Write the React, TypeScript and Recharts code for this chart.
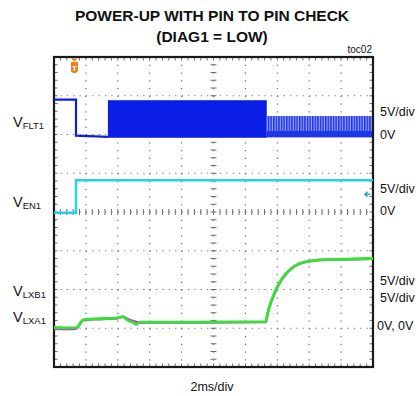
import React from 'react';
import {
  ComposedChart,
  Line,
  Area,
  XAxis,
  YAxis,
  ReferenceArea,
  ReferenceDot,
} from 'recharts';

// time in ms from the left edge of the screen (2ms/div, 10 div)
// VFLT1 (volts)
const fltTime = [0, 1.38, 1.38, 2.6, 3.38];
const fltVolts = [4.5, 4.5, -0.15, -0.25, -0.3];
const burstTime = [3.38, 13.34];
const burstLow = [-0.35, -0.35];
const burstHigh = [4.35, 4.35];
const tailTime = [13.34, 20];
const tailLow = [-0.35, -0.35];
const tailHigh = [2.4, 2.4];
const tailBand = [0.45, 0.45];

// VEN1
const enTime = [0, 1.38, 1.38, 20];
const enVolts = [-0.1, -0.1, 4.1, 4.1];

// VLXA1 / VLXB1
const lxTime = [0, 1.0, 1.38, 1.85, 2.5, 4.0, 4.3, 4.6, 5.0, 5.15, 5.35, 9.0, 13.28, 13.38, 13.5, 13.81, 14.23, 14.75, 15.38, 16.42, 17.9, 20];
const lxaVolts = [0.1, 0.05, 0.05, 1.1, 1.2, 1.35, 1.5, 1.05, 0.7, 0.5, 0.8, 0.8, 0.85, 1.8, 2.75, 4.47, 6.19, 7.48, 8.35, 8.77, 8.9, 9.0];
const lxbVolts = [-0.05, -0.1, -0.05, 1.05, 1.15, 1.3, 1.5, 1.2, 0.9, 0.8, 0.75, 0.75, 0.8, 1.75, 2.7, 4.4, 6.15, 7.45, 8.3, 8.75, 8.88, 8.98];

const triggerTime = 1.28;
const enLevel = 2.3;

const zip = (t: number[], v: number[]) => t.map((x, i) => ({ t: x, v: v[i] }));
const band = (t: number[], lo: number[], hi: number[]) => t.map((x, i) => ({ t: x, r: [lo[i], hi[i]] }));

const FONT = "'Liberation Sans', Arial, sans-serif";
const GRID = '#6e6e6e';
const XDIV = 10;
const YDIV = 8;

// scope graticule: dotted grid, minor ticks on edges and centre axes
const Graticule = (props: any) => {
  const { x, y, width, height } = props;
  const dx = width / XDIV;
  const dy = height / YDIV;
  const cx = x + width / 2;
  const cy = y + height / 2;
  const lines: React.ReactNode[] = [];
  for (let i = 1; i < XDIV; i++) {
    const gx = x + i * dx;
    lines.push(<line key={`v${i}`} x1={gx} y1={y} x2={gx} y2={y + height} strokeWidth={1.2} strokeDasharray={`1.2 ${dy / 5 - 1.2}`} />);
  }
  for (let j = 1; j < YDIV; j++) {
    const gy = y + j * dy;
    lines.push(<line key={`h${j}`} x1={x} y1={gy} x2={x + width} y2={gy} strokeWidth={1.2} strokeDasharray={`1.2 ${dx / 5 - 1.2}`} />);
  }
  for (let i = 1; i < XDIV * 5; i++) {
    const gx = x + (i * dx) / 5;
    lines.push(<line key={`tb${i}`} x1={gx} y1={y + height} x2={gx} y2={y + height - 3.5} />);
    lines.push(<line key={`tt${i}`} x1={gx} y1={y} x2={gx} y2={y + 3.5} />);
    lines.push(<line key={`tc${i}`} x1={gx} y1={cy - 3} x2={gx} y2={cy + 3} />);
  }
  for (let j = 1; j < YDIV * 5; j++) {
    const gy = y + (j * dy) / 5;
    lines.push(<line key={`tl${j}`} x1={x} y1={gy} x2={x + 3.5} y2={gy} />);
    lines.push(<line key={`tr${j}`} x1={x + width} y1={gy} x2={x + width - 3.5} y2={gy} />);
    lines.push(<line key={`tm${j}`} x1={cx - 3} y1={gy} x2={cx + 3} y2={gy} />);
  }
  return (
    <g stroke={GRID} strokeWidth={1} fill="none">
      {lines}
    </g>
  );
};

const Frame = (props: any) => {
  const { x, y, width, height } = props;
  return <rect x={x} y={y} width={width} height={height} fill="none" stroke="#1a1a1a" strokeWidth={2.2} />;
};

const TriggerMark = (props: any) => {
  const { cx, cy } = props;
  return (
    <g>
      <path d={`M${cx - 3.5},${cy + 1.5} L${cx + 3.5},${cy + 1.5} L${cx},${cy + 4.5} Z`} fill="#f07c1c" />
      <path
        d={`M${cx - 3.5},${cy + 5} L${cx + 3.5},${cy + 5} L${cx + 3.5},${cy + 13} Q${cx + 3.5},${cy + 16} ${cx},${cy + 16} Q${cx - 3.5},${cy + 16} ${cx - 3.5},${cy + 13} Z`}
        fill="#f07c1c"
      />
      <text x={cx} y={cy + 14} textAnchor="middle" fontSize={8} fontWeight="bold" fill="#fff" fontFamily={FONT}>
        T
      </text>
    </g>
  );
};

const LevelMark = (props: any) => {
  const { cx, cy } = props;
  return (
    <g stroke="#1b9fae" strokeWidth={1.4} fill="none">
      <line x1={cx - 8} y1={cy} x2={cx - 2.5} y2={cy} />
      <path d={`M${cx - 5.5},${cy - 2.5} L${cx - 8},${cy} L${cx - 5.5},${cy + 2.5}`} />
    </g>
  );
};

const App: React.FC = () => {
  return (
    <div style={{ position: 'absolute', left: 0, top: 0, width: 420, height: 396, background: '#fff' }}>
      <ComposedChart width={420} height={396} margin={{ top: 57, right: 47, bottom: 29, left: 54 }}>
        <defs>
          <pattern id="stripes" width="2.6" height="10" patternUnits="userSpaceOnUse">
            <rect width="2.6" height="10" fill="#9aa6f4" />
            <rect width="1.5" height="10" fill="#1f35ea" />
          </pattern>
        </defs>
        <XAxis dataKey="t" type="number" domain={[0, 20]} hide allowDataOverflow />
        <YAxis yAxisId="flt" type="number" domain={[-30, 10]} hide allowDataOverflow />
        <YAxis yAxisId="en" type="number" domain={[-20, 20]} hide allowDataOverflow />
        <YAxis yAxisId="lx" type="number" domain={[-5, 35]} hide allowDataOverflow />

        <ReferenceArea yAxisId="flt" x1={0} x2={20} y1={-30} y2={10} ifOverflow="visible" shape={Graticule} />

        <Area yAxisId="flt" data={band(burstTime, burstLow, burstHigh)} dataKey="r" type="linear" stroke="#0a1ee6" strokeWidth={1} fill="#0a1ee6" fillOpacity={1} isAnimationActive={false} />
        <Area yAxisId="flt" data={band(tailTime, tailLow, tailHigh)} dataKey="r" type="linear" stroke="none" fill="url(#stripes)" fillOpacity={1} isAnimationActive={false} />
        <Area yAxisId="flt" data={band(tailTime, tailLow, tailBand)} dataKey="r" type="linear" stroke="none" fill="#1f35ea" fillOpacity={1} isAnimationActive={false} />
        <Line yAxisId="flt" data={zip(fltTime, fltVolts)} dataKey="v" type="linear" stroke="#0a1ee6" strokeWidth={2.2} dot={false} isAnimationActive={false} />

        <Line yAxisId="en" data={zip(enTime, enVolts)} dataKey="v" type="linear" stroke="#22d3e8" strokeWidth={2.5} dot={false} isAnimationActive={false} />

        <Line yAxisId="lx" data={zip(lxTime, lxbVolts)} dataKey="v" type="monotone" stroke="#e41ee4" strokeWidth={2.5} dot={false} isAnimationActive={false} />
        <Line yAxisId="lx" data={zip(lxTime, lxaVolts)} dataKey="v" type="monotone" stroke="#2ee62e" strokeWidth={2.8} dot={false} isAnimationActive={false} />

        <ReferenceArea yAxisId="flt" x1={0} x2={20} y1={-30} y2={10} ifOverflow="visible" shape={Frame} />
        <ReferenceDot yAxisId="flt" x={triggerTime} y={10} ifOverflow="visible" shape={TriggerMark} />
        <ReferenceDot yAxisId="en" x={20} y={enLevel} ifOverflow="visible" shape={LevelMark} />

        <g fontFamily={FONT} fill="#111">
          <text x={212} y={21} textAnchor="middle" fontSize={15.5} fontWeight="bold">POWER-UP WITH PIN TO PIN CHECK</text>
          <text x={212} y={42} textAnchor="middle" fontSize={15.5} fontWeight="bold">(DIAG1 = LOW)</text>
          <text x={372} y={53} textAnchor="end" fontSize={10}>toc02</text>

          <text x={13} y={127} fontSize={14.5}>V<tspan fontSize={9.5} dy={2}>FLT1</tspan></text>
          <text x={13} y={207} fontSize={14.5}>V<tspan fontSize={9.5} dy={2}>EN1</tspan></text>
          <text x={13} y={296} fontSize={14.5}>V<tspan fontSize={9.5} dy={2}>LXB1</tspan></text>
          <text x={13} y={322} fontSize={14.5}>V<tspan fontSize={9.5} dy={2}>LXA1</tspan></text>

          <text x={380} y={116} fontSize={12.5}>5V/div</text>
          <text x={380} y={139} fontSize={12.5}>0V</text>
          <text x={380} y={193} fontSize={12.5}>5V/div</text>
          <text x={380} y={215} fontSize={12.5}>0V</text>
          <text x={380} y={285} fontSize={12.5}>5V/div</text>
          <text x={380} y={302} fontSize={12.5}>5V/div</text>
          <text x={377} y={330} fontSize={12.5}>0V, 0V</text>

          <text x={212} y={391} textAnchor="middle" fontSize={12.5}>2ms/div</text>
        </g>
      </ComposedChart>
    </div>
  );
};

export default App;
